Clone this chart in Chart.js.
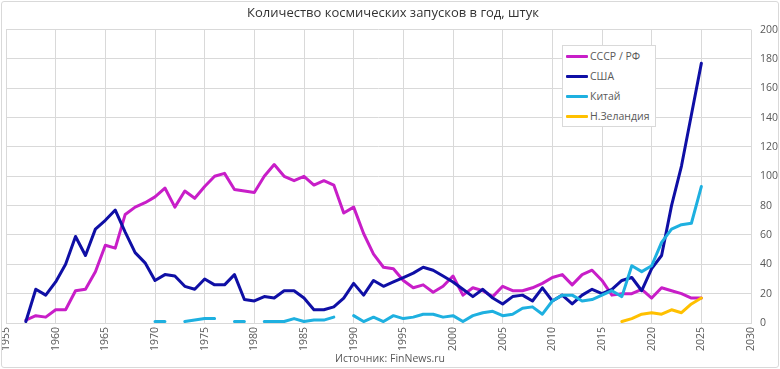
<!DOCTYPE html>
<html>
<head>
<meta charset="utf-8">
<script src="https://cdn.jsdelivr.net/npm/chart.js@4"></script>
<style>
  html, body { margin: 0; padding: 0; background: #fff; }
  #wrap { position: relative; width: 780px; height: 369px; }
  #frame { position: absolute; left: 1px; top: 1px; width: 776px; height: 365px; border: 1px solid #d9d9d9; border-radius: 3px; pointer-events: none; }
  #legend { position: absolute; left: 562px; top: 45px; width: 94px; height: 82px; border: 1px solid #d9d9d9; background: #fff; box-sizing: border-box; font-family: "Open Sans", sans-serif; font-size: 10.5px; color: #595959; }
  .item { position: absolute; left: 3px; height: 14px; display: flex; align-items: center; }
  .swatch { width: 22px; height: 3px; border-radius: 1px; margin-right: 2px; }
  #source { position: absolute; left: 0; width: 780px; top: 351px; text-align: center; font-family: "Open Sans", sans-serif; font-size: 10.5px; color: #595959; }
</style>
</head>
<body>
<div id="wrap">
  <canvas id="c" width="780" height="369"></canvas>
  <div id="legend"></div>
  <div id="source">Источник: FinNews.ru</div>
  <div id="frame"></div>
</div>
<script>
const title = "Количество космических запусков в год, штук";
const seriesNames = ["СССР / РФ", "США", "Китай", "Н.Зеландия"];
const seriesColors = ["#c81ec8", "#0f0fa5", "#1eb0e0", "#ffc000"];

const years = [
  1957,1958,1959,1960,1961,1962,1963,1964,1965,1966,1967,1968,1969,
  1970,1971,1972,1973,1974,1975,1976,1977,1978,1979,
  1980,1981,1982,1983,1984,1985,1986,1987,1988,1989,
  1990,1991,1992,1993,1994,1995,1996,1997,1998,1999,
  2000,2001,2002,2003,2004,2005,2006,2007,2008,2009,
  2010,2011,2012,2013,2014,2015,2016,2017,2018,2019,
  2020,2021,2022,2023,2024,2025
];

const ussr = [
  2,5,4,9,9,22,23,35,53,51,74,79,82,
  86,92,79,90,85,93,100,102,91,90,
  89,100,108,100,97,100,94,97,94,75,
  79,61,47,38,37,29,24,26,21,25,
  32,19,24,22,18,25,22,22,24,27,
  31,33,26,33,36,29,19,20,20,23,
  17,24,22,20,17,17
];

const usa = [
  1,23,19,28,40,59,46,64,70,77,62,48,41,
  29,33,32,25,23,30,26,26,33,16,
  15,18,17,22,22,17,9,9,11,17,
  27,19,29,25,28,31,34,38,36,32,
  28,23,18,23,17,13,18,19,15,24,
  15,19,13,19,23,20,23,29,31,22,
  37,46,80,107,142,177
];

const china = [
  null,null,null,null,null,null,null,null,null,null,null,null,null,
  1,1,null,1,2,3,3,null,1,1,
  null,1,1,1,3,1,2,2,4,null,
  5,1,4,1,5,3,4,6,6,4,
  5,1,5,7,8,5,6,10,11,6,
  15,19,19,15,16,19,22,18,39,35,
  39,55,64,67,68,93
];

const newZealand = [
  null,null,null,null,null,null,null,null,null,null,null,null,null,
  null,null,null,null,null,null,null,null,null,null,
  null,null,null,null,null,null,null,null,null,null,
  null,null,null,null,null,null,null,null,null,null,
  null,null,null,null,null,null,null,null,null,null,
  null,null,null,null,null,null,null,1,3,6,
  7,6,9,7,13,17
];

const xMin = 1955, xMax = 2030, xStep = 5;
const yMin = 0, yMax = 200, yStep = 20;

const allSeries = [ussr, usa, china, newZealand];

const datasets = allSeries.map((vals, i) => ({
  label: seriesNames[i],
  data: years.map((yr, k) => ({ x: yr, y: vals[k] })),
  borderColor: seriesColors[i],
  backgroundColor: seriesColors[i],
  borderWidth: 3,
  pointRadius: 0,
  pointHoverRadius: 0,
  tension: 0,
  spanGaps: false,
  borderJoinStyle: 'round',
  borderCapStyle: 'round',
  order: i === 0 ? 3 : (i === 1 ? 2 : (i === 2 ? 1 : 0))
}));

// HTML legend
const legendEl = document.getElementById('legend');
seriesNames.forEach((name, i) => {
  const it = document.createElement('div');
  it.className = 'item';
  it.style.top = (3 + i * 20) + 'px';
  const sw = document.createElement('div');
  sw.className = 'swatch';
  sw.style.background = seriesColors[i];
  const tx = document.createElement('span');
  tx.textContent = name;
  it.appendChild(sw);
  it.appendChild(tx);
  legendEl.appendChild(it);
});

const gridColor = '#d9d9d9';
const tickColor = '#595959';

new Chart(document.getElementById('c'), {
  type: 'line',
  data: { datasets },
  options: {
    responsive: false,
    animation: false,
    events: [],
    layout: { padding: { left: 6, right: 0, top: 0, bottom: 16 } },
    plugins: {
      legend: { display: false },
      tooltip: { enabled: false },
      title: {
        display: true,
        text: title,
        color: '#333333',
        font: { family: 'Open Sans', size: 13, weight: 'normal' },
        padding: { top: 5, bottom: 9 }
      }
    },
    scales: {
      x: {
        type: 'linear',
        min: xMin, max: xMax,
        ticks: {
          stepSize: xStep,
          minRotation: 90, maxRotation: 90,
          color: tickColor,
          font: { family: 'Open Sans', size: 10.5 },
          padding: 4,
          callback: v => String(v)
        },
        grid: { color: gridColor, lineWidth: 1, drawTicks: false },
        border: { color: gridColor },
        afterFit: s => { s.height = 30; }
      },
      y: {
        position: 'right',
        min: yMin, max: yMax,
        ticks: {
          stepSize: yStep,
          color: tickColor,
          font: { family: 'Open Sans', size: 10.5 },
          padding: 9
        },
        grid: { color: gridColor, lineWidth: 1, drawTicks: false },
        border: { display: false },
        afterFit: s => { s.width = 29; }
      }
    }
  }
});
</script>
</body>
</html>
